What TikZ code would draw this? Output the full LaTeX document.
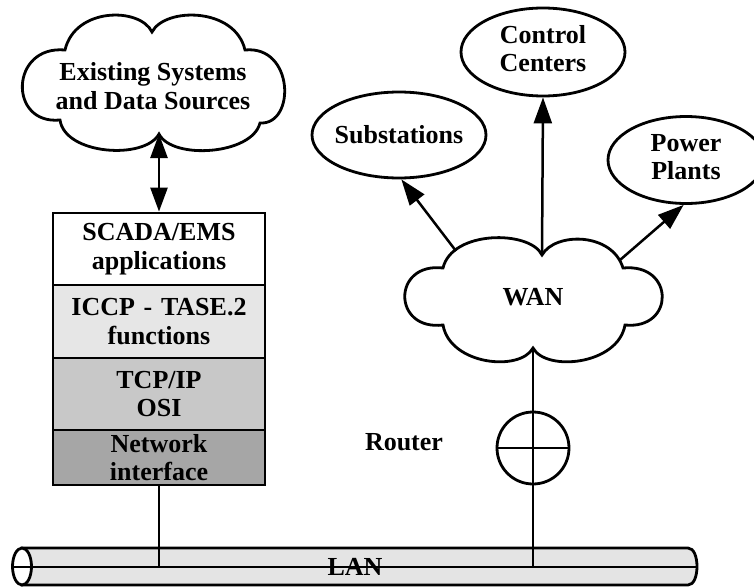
\documentclass[tikz,border=0pt]{standalone}
\usepackage{fontspec}
\setmainfont{Liberation Serif}
\usetikzlibrary{shapes.geometric,arrows.meta}
\definecolor{gA}{HTML}{E6E6E6}
\definecolor{gB}{HTML}{C8C8C8}
\definecolor{gC}{HTML}{A6A6A6}
\definecolor{lanfill}{HTML}{E4E4E4}
\begin{document}
\begin{tikzpicture}[x=1pt,y=-1pt,
  lw/.style={line width=2.8pt},
  lbl/.style={font=\fontsize{26}{28.5}\selectfont\bfseries, inner sep=0pt},
  layer/.style={lbl, align=center, draw, line width=2.8pt, minimum width=212pt, text width=212pt},
  oval/.style={lbl, draw, ellipse, line width=2.8pt},
  arr/.style={line width=2.5pt, -{Triangle[length=26pt,width=18pt]}},
  darr/.style={line width=2.5pt, {Triangle[length=24pt,width=17pt]}-{Triangle[length=24pt,width=17pt]}},
  ]
\useasboundingbox (0,0) rectangle (754,586);

% Existing systems cloud
\draw[lw, fill=white] (152,32) .. controls (140,7) and (75,7) .. (65,50)
  .. controls (10,45) and (8,125) .. (60,120)
  .. controls (65,155) and (145,160) .. (159,134)
  .. controls (172,160) and (252,155) .. (260,123)
  .. controls (296,125) and (294,45) .. (245,50)
  .. controls (235,7) and (165,7) .. (152,32) -- cycle;
\node[lbl, align=center] (exist) at (153,86) {Existing Systems\\and Data Sources};
\coordinate (exB) at (159,134);

% stack
\node[layer, fill=white, minimum height=72pt] (s1) at (159,249) {SCADA/EMS\\applications};
\node[layer, fill=gA, minimum height=73pt] (s2) at (159,321.5) {ICCP - TASE.2\\functions};
\node[layer, fill=gB, minimum height=72pt] (s3) at (159,394) {TCP/IP\\OSI};
\node[layer, fill=gC, minimum height=55pt] (s4) at (159,457.5) {Network\\interface};

\draw[darr] (exB) -- (s1.north);

% WAN cloud
\draw[lw, fill=white] (542,255) .. controls (530,230) and (452,230) .. (443,268)
  .. controls (392,262) and (392,331) .. (443,325)
  .. controls (450,365) and (520,372) .. (533,348)
  .. controls (546,372) and (618,365) .. (625,325)
  .. controls (675,330) and (675,263) .. (623,268)
  .. controls (612,232) and (555,232) .. (542,255) -- cycle;
\node[lbl] (wan) at (533,297) {WAN};
\coordinate (wanA) at (456,251);
\coordinate (wanT) at (542,255);
\coordinate (wanC) at (620,260);
\coordinate (wanB) at (533,348);

% ellipses
\node[oval, minimum width=174pt, minimum height=86pt] (sub) at (399,135) {\makebox[0pt]{Substations}};
\node[oval, minimum width=164pt, minimum height=88pt] (cc) at (543,52) {\makebox[0pt]{\begin{tabular}{@{}c@{}}Control\\Centers\end{tabular}}};
\node[oval, minimum width=156pt, minimum height=87pt] (pp) at (686,160) {\makebox[0pt]{\begin{tabular}{@{}c@{}}Power\\Plants\end{tabular}}};

\draw[arr] (wanA) -- (sub.-87);
\draw[arr] (wanT) -- (cc.south);
\draw[arr] (wanC) -- (pp.-93);

% LAN cylinder
\coordinate (lanL) at (13,567);
\coordinate (lanR) at (697,567);
\draw[lw, fill=lanfill] (22,548) -- (688,548) .. controls (700,548) and (700,585) .. (688,585) -- (22,585) -- cycle;
\draw[lw, fill=white] (22,566.5) ellipse [x radius=9.5pt, y radius=18.5pt];
\node[lbl] (lan) at (355,567) {LAN};
\draw[line width=2.8pt] (lanL) -- (lanR);

% connections
\draw[lw] (s4.south) -- (s4.south |- lanL);
\node[draw, circle, lw, minimum size=72pt, inner sep=0pt] (router) at (533,448) {};
\draw[lw] (wanB) -- (wanB |- lanL);
\draw[lw] (router.west) -- (router.east);
\node[lbl] (rlabel) at (404,442) {Router};
\end{tikzpicture}
\end{document}
